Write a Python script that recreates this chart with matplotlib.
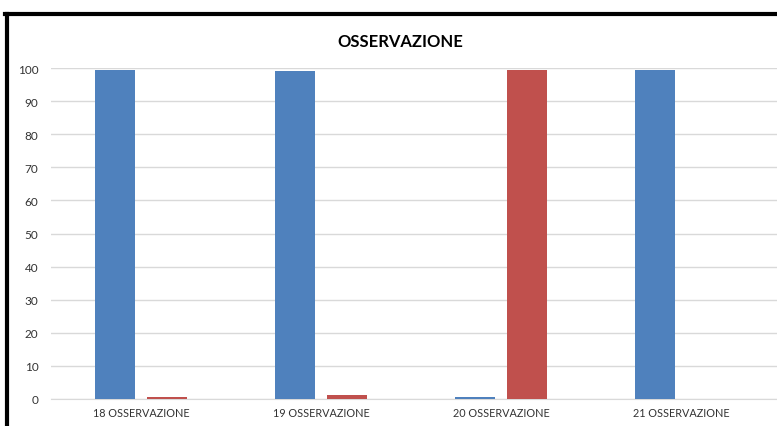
import matplotlib
matplotlib.use("Agg")
import matplotlib.pyplot as plt
from matplotlib.lines import Line2D
import numpy as np

categories = ["18 OSSERVAZIONE", "19 OSSERVAZIONE", "20 OSSERVAZIONE", "21 OSSERVAZIONE"]
series_blue = [99.5, 99.0, 0.5, 99.5]
series_red = [0.5, 1.2, 99.5, 0.0]
yticks = [0, 10, 20, 30, 40, 50, 60, 70, 80, 90, 100]
title = "OSSERVAZIONE"

plt.rcParams['font.family'] = ['Lato', 'DejaVu Sans']

W, H = 777, 427
fig = plt.figure(figsize=(W / 100, H / 100), dpi=100)
ax = fig.add_axes([51 / W, 27 / H, 726 / W, 331 / H])

x = np.arange(len(categories))
bw = 0.222
off = 0.142
ax.bar(x - off, series_blue, width=bw, color="#4F81BD", zorder=3)
ax.bar(x + off, series_red, width=bw, color="#C0504D", zorder=3)

ax.set_xlim(-0.5, len(categories) - 0.5 + 6 / 180)
ax.set_ylim(0, 100)
ax.set_yticks(yticks)
ax.set_yticklabels([str(v) for v in yticks], fontsize=8.5, color="#333333")
ax.set_xticks(x)
ax.set_xticklabels(categories, fontsize=7.8, color="#333333")
ax.tick_params(axis="both", length=0)
ax.tick_params(axis="y", pad=9)
ax.tick_params(axis="x", pad=6)
ax.grid(axis="y", color="#d9d9d9", linewidth=1, zorder=0)
for s in ["top", "right", "left"]:
    ax.spines[s].set_visible(False)
ax.spines["bottom"].set_color("#d9d9d9")

fig.text(400 / W, 1 - 42 / H, title, ha="center", va="center",
         fontsize=12, fontweight="bold", color="#000000")

# black frame of the screenshot (left and top edges)
fig.add_artist(Line2D([7 / W, 7 / W], [0, 1 - 15 / H], color="black", linewidth=3, transform=fig.transFigure))
fig.add_artist(Line2D([5 / W, 1], [1 - 15 / H, 1 - 15 / H], color="black", linewidth=3, transform=fig.transFigure))

fig.savefig("out.png", dpi=100)
